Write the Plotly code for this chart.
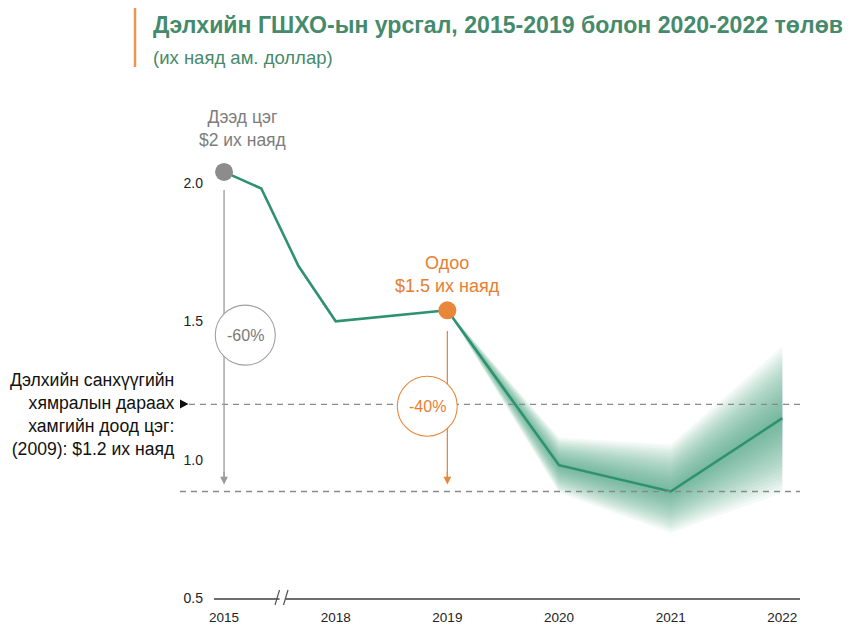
import plotly.graph_objects as go

# ---------------- data ----------------
hist_years = [2015, 2016, 2017, 2018, 2019]
hist_values = [2.04, 1.98, 1.70, 1.50, 1.54]

fc_years = [2019, 2020, 2021, 2022]
fc_central = [1.54, 0.98, 0.885, 1.15]
fc_upper = [1.54, 1.08, 1.055, 1.41]
fc_lower = [1.54, 0.88, 0.735, 0.88]

tick_years = [2015, 2018, 2019, 2020, 2021, 2022]
y_ticks = [0.5, 1.0, 1.5, 2.0]
y_tick_labels = ["0.5", "1.0", "1.5", "2.0"]

peak_value = 2.04
current_value = 1.54
crisis_low = 1.2
forecast_low = 0.885

# ---------------- styling ----------------
FONT = "Liberation Sans, Arial, sans-serif"
GREEN = "#2e9270"
TITLE_GREEN = "#468a6c"
ORANGE = "#e8873a"
ORANGE_TXT = "#e67e30"
GREY = "#8c8c8c"
DASH_GREY = "#8a8a8a"

# page is 853x626; the html body has an 8px default margin
OFF = 8
PAGE_W, PAGE_H = 853, 626
W, H = PAGE_W - OFF, PAGE_H - OFF
# plot area in page pixels: x 214..800, y 100..598
ML, MR, MT, MB = 214 - OFF, PAGE_W - 800, 100 - OFF, PAGE_H - 598
PW, PH = W - ML - MR, H - MT - MB


def xpos(year):
    # compressed axis: 2015-2018 shares one interval (axis break)
    return (year - 2015) / 3 if year <= 2018 else year - 2017


def px_x(px):
    return (px - OFF - ML) / PW


def px_y(py):
    return (H - MB - (py - OFF)) / PH


fig = go.Figure()

# forecast fan (layered for gradient effect)
N = 20
fx = [xpos(y) for y in fc_years]
for k in range(N, 0, -1):
    f = k / N
    up = [c + f * (u - c) for c, u in zip(fc_central, fc_upper)]
    lo = [c - f * (c - l) for c, l in zip(fc_central, fc_lower)]
    fig.add_trace(go.Scatter(
        x=fx + fx[::-1], y=up + lo[::-1], fill="toself",
        fillcolor="rgba(60,160,120,0.052)", line=dict(width=0),
        mode="lines", hoverinfo="skip", showlegend=False))

# historical line
fig.add_trace(go.Scatter(
    x=[xpos(y) for y in hist_years], y=hist_values, mode="lines",
    line=dict(color=GREEN, width=2.6), hoverinfo="skip", showlegend=False))
# central forecast
fig.add_trace(go.Scatter(
    x=fx, y=fc_central, mode="lines",
    line=dict(color=GREEN, width=2.6), hoverinfo="skip", showlegend=False))

# highlighted points
fig.add_trace(go.Scatter(
    x=[xpos(hist_years[0])], y=[hist_values[0]], mode="markers",
    marker=dict(size=18, color=GREY), cliponaxis=False,
    hoverinfo="skip", showlegend=False))
fig.add_trace(go.Scatter(
    x=[xpos(2019)], y=[current_value], mode="markers",
    marker=dict(size=18, color=ORANGE), cliponaxis=False,
    hoverinfo="skip", showlegend=False))

shapes = []
# reference dashed lines
shapes.append(dict(type="line", xref="paper", yref="y", x0=px_x(189), x1=1.0,
                   y0=crisis_low, y1=crisis_low, layer="above",
                   line=dict(color=DASH_GREY, width=1.4, dash="6px,5px")))
shapes.append(dict(type="line", xref="paper", yref="y", x0=px_x(180), x1=1.0,
                   y0=forecast_low, y1=forecast_low, layer="above",
                   line=dict(color=DASH_GREY, width=1.4, dash="6px,5px")))
# vertical drop lines
shapes.append(dict(type="line", xref="x", yref="y",
                   x0=xpos(2015), x1=xpos(2015),
                   y0=peak_value - 0.065, y1=forecast_low + 0.035, layer="above",
                   line=dict(color="#9a9a9a", width=1.3)))
shapes.append(dict(type="line", xref="x", yref="y",
                   x0=xpos(2019), x1=xpos(2019),
                   y0=current_value - 0.075, y1=forecast_low + 0.035, layer="above",
                   line=dict(color=ORANGE, width=1.3)))
# circles with percentage
shapes.append(dict(type="circle", xref="x", yref="y", xsizemode="pixel", ysizemode="pixel",
                   xanchor=0.19, yanchor=1.45, x0=-30, x1=30, y0=-30, y1=30,
                   fillcolor="white", line=dict(color="#a0a0a0", width=1.1), layer="above"))
shapes.append(dict(type="circle", xref="x", yref="y", xsizemode="pixel", ysizemode="pixel",
                   xanchor=1.82, yanchor=1.193, x0=-30, x1=30, y0=-30, y1=30,
                   fillcolor="white", line=dict(color=ORANGE, width=1.1), layer="above"))
# axis break
shapes.append(dict(type="rect", xref="paper", yref="paper",
                   x0=px_x(279.5), x1=px_x(285.5), y0=px_y(602), y1=px_y(594),
                   fillcolor="white", line=dict(width=0), layer="above"))
for sx in (275, 283.5):
    shapes.append(dict(type="line", xref="paper", yref="paper",
                       x0=px_x(sx), x1=px_x(sx + 4.5), y0=px_y(605), y1=px_y(590),
                       line=dict(color="#555555", width=1.2), layer="above"))
# title accent bar
shapes.append(dict(type="line", xref="paper", yref="paper",
                   x0=px_x(135), x1=px_x(135), y0=px_y(8), y1=px_y(67),
                   line=dict(color="#ee9450", width=2.5), layer="above"))
# small pointer triangle
shapes.append(dict(type="path", xref="paper", yref="paper",
                   path=f"M {px_x(180)},{px_y(399.5)} L {px_x(188.5)},{px_y(404)} "
                        f"L {px_x(180)},{px_y(408.5)} Z",
                   fillcolor="#111111", line=dict(width=0), layer="above"))

ann = []
# arrowheads
for xv, col in ((xpos(2015), "#9a9a9a"), (xpos(2019), ORANGE)):
    ann.append(dict(x=xv, y=forecast_low + 0.025, xref="x", yref="y",
                    ax=0, ay=-14, text="", showarrow=True, arrowhead=2,
                    arrowsize=1.2, arrowwidth=1.3, arrowcolor=col, standoff=0))
# circle labels
ann.append(dict(x=0.19, y=1.45, xref="x", yref="y", text="-60%", showarrow=False,
                font=dict(family=FONT, size=16, color="#7a7a7a")))
ann.append(dict(x=1.82, y=1.193, xref="x", yref="y", text="-40%", showarrow=False,
                font=dict(family=FONT, size=16, color=ORANGE_TXT)))


def ptext(px, py, text, size, color, xanchor="center", align="center", bold=False):
    if bold:
        text = f"<b>{text}</b>"
    ann.append(dict(x=px_x(px), y=px_y(py), xref="paper", yref="paper", text=text,
                    showarrow=False, xanchor=xanchor, yanchor="middle", align=align,
                    font=dict(family=FONT, size=size, color=color)))


# peak / current labels
ptext(242, 129, "Дээд цэг<br>$2 их наяд", 17.5, "#7d7d7d")
ptext(447, 274.5, "Одоо<br>$1.5 их наяд", 18, ORANGE_TXT)

# left note
ptext(177, 414, "Дэлхийн санхүүгийн<br>хямралын дараах<br>хамгийн доод цэг:<br>"
      "(2009): $1.2 их наяд", 17.6, "#111111", xanchor="right", align="right")

# title and subtitle
ptext(151, 25, "Дэлхийн ГШХО-ын урсгал, 2015-2019 болон 2020-2022 төлөв", 23.1,
      TITLE_GREEN, xanchor="left", bold=True)
ptext(151, 57, "(их наяд ам. доллар)", 18.5, TITLE_GREEN, xanchor="left")

fig.update_layout(
    width=W, height=H,
    margin=dict(l=ML, r=MR, t=MT, b=MB, autoexpand=False),
    paper_bgcolor="white", plot_bgcolor="white",
    font=dict(family=FONT),
    showlegend=False,
    shapes=shapes,
    annotations=ann,
    xaxis=dict(range=[-0.09, 5.158], tickvals=[xpos(y) for y in tick_years],
               ticktext=[str(y) for y in tick_years], showgrid=False, zeroline=False,
               showline=True, linecolor="#6e6e6e", linewidth=1.5, ticks="",
               tickfont=dict(family=FONT, size=13.5, color="#222222"),
               ticklabelstandoff=6, automargin=False, fixedrange=True),
    yaxis=dict(range=[0.5, 2.3], tickvals=y_ticks, ticktext=y_tick_labels,
               showgrid=False, zeroline=False, showline=False, ticks="",
               tickfont=dict(family=FONT, size=14, color="#222222"),
               ticklabelstandoff=10, automargin=False, fixedrange=True),
)

fig.write_html("out.html")
